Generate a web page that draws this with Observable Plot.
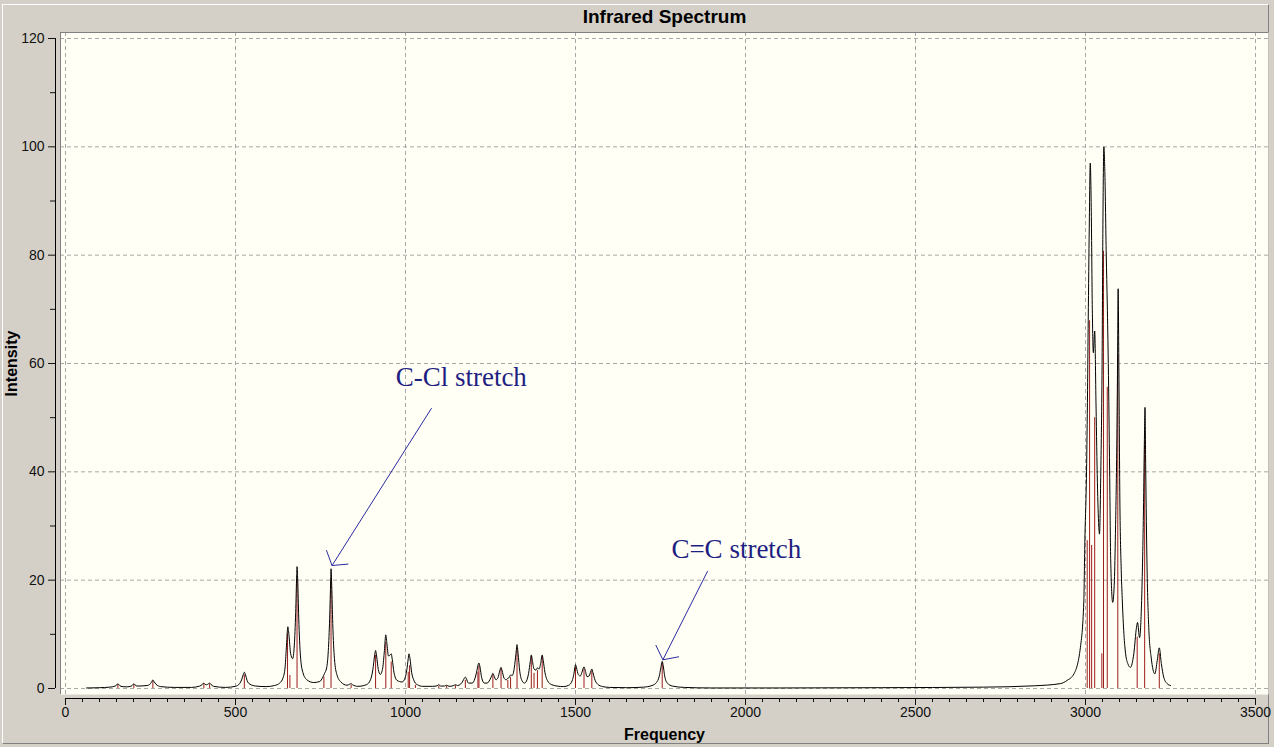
<!DOCTYPE html>
<html><head><meta charset="utf-8">
<script src="https://cdn.jsdelivr.net/npm/d3@7"></script>
<script src="https://cdn.jsdelivr.net/npm/@observablehq/plot@0.6"></script>
<style>
body{margin:0;background:#d4d0c8;}
#wrap{position:relative;width:1274px;height:747px;overflow:hidden;}
#bevel{position:absolute;left:2px;top:4px;width:1265px;height:738px;border-top:1px solid #fff;border-left:1px solid #fff;border-right:1px solid #808080;border-bottom:1px solid #808080;}
#chart{position:absolute;left:0;top:0;}
</style></head><body>
<div id="wrap"><div id="bevel"></div><div id="chart"></div></div>
<script>
// ---- Data ----
// Stick spectrum: frequencies (cm-1) and intensities
const stickFreq = [154, 201, 257, 407, 424, 526, 653, 660, 681, 760, 781, 840, 912, 942, 958, 1008, 1012, 1029, 1098, 1121, 1147, 1176, 1213, 1216, 1257, 1281, 1301, 1309, 1328, 1370, 1378, 1388, 1402, 1500, 1525, 1548, 1755, 3005, 3012, 3018, 3027, 3048, 3053, 3064, 3095, 3152, 3174, 3217];
const stickInt  = [0.7, 0.7, 1.3, 0.8, 0.8, 2.5, 10.1, 2.4, 20.3, 2.1, 20.3, 0.6, 6.1, 8.5, 4.9, 3.0, 4.2, 0.6, 0.4, 0.4, 0.5, 1.5, 3.0, 4.2, 2.5, 3.6, 1.5, 2.0, 7.3, 5.9, 2.8, 3.3, 5.9, 3.9, 3.5, 3.2, 4.6, 27.3, 67.9, 26.4, 50, 6.4, 80.7, 55.6, 61.5, 9.5, 45.5, 6.4];

// Broadened spectrum envelope: points
const envFreq = [62,100,130,146,151,154,157,163,180,194,198,201,204,210,240,250,254,257,260,266,280,320,370,395,402,407,411,415,420,424,428,436,470,500,512,518,523,526,529,534,542,560,590,615,630,640,646,650,654,657,662,668,673,677,680,681,683,686,691,698,710,730,748,756,762,768,773,777,780,781,783,786,791,798,810,828,836,840,844,860,885,897,904,909,912,915,920,926,933,938,942,945,950,955,958,961,966,975,990,999,1004,1008,1010,1013,1018,1024,1029,1035,1050,1080,1093,1098,1103,1114,1121,1128,1140,1147,1153,1162,1169,1173,1176,1179,1185,1196,1204,1210,1214,1216,1219,1224,1232,1240,1248,1254,1257,1260,1266,1272,1277,1281,1284,1290,1296,1301,1305,1309,1314,1320,1325,1328,1331,1336,1343,1350,1356,1362,1367,1370,1373,1378,1383,1388,1393,1398,1402,1405,1410,1418,1430,1446,1465,1480,1490,1495,1498,1500,1503,1508,1514,1519,1523,1525,1528,1534,1540,1545,1548,1551,1556,1565,1580,1600,1650,1700,1725,1738,1746,1751,1755,1758,1762,1770,1785,1820,1900,2100,2400,2700,2850,2926,2946,2966,2985,2995,2998,3003,3006,3008,3011,3014,3017,3020,3023,3027,3031,3035,3039,3041,3045,3049,3051,3054,3057,3061,3064,3067,3071,3074,3080,3085,3088,3092,3094,3096,3098,3101,3105,3108,3113,3118,3125,3132,3142,3150,3153,3159,3165,3170,3173,3175,3177,3181,3186,3193,3204,3211,3217,3223,3230,3240,3250];
const envInt  = [0.1,0.15,0.25,0.45,0.7,0.9,0.7,0.4,0.3,0.45,0.7,0.9,0.7,0.45,0.55,0.9,1.3,1.6,1.3,0.8,0.35,0.2,0.2,0.45,0.75,1.0,0.75,0.7,0.85,1.0,0.75,0.4,0.2,0.4,0.9,1.6,2.6,3.0,2.6,1.5,0.8,0.45,0.35,0.55,1.0,2.0,4.0,8.0,11.4,10.0,6.5,5.5,8.0,14.0,21.0,22.5,20.0,13.0,6.0,3.0,1.6,1.1,1.3,2.0,2.8,3.8,7.0,13.0,20.0,22.1,19.0,12.0,5.5,2.6,1.2,0.6,0.8,0.9,0.7,0.4,0.7,1.6,3.5,6.0,7.0,6.0,3.5,2.6,3.8,7.0,9.9,8.5,6.0,6.2,6.4,5.4,3.0,1.5,1.2,2.0,3.5,5.5,6.4,5.6,3.0,1.6,1.0,0.7,0.4,0.4,0.5,0.7,0.45,0.45,0.6,0.4,0.5,0.7,0.55,0.8,1.4,1.9,2.1,1.8,1.0,1.0,1.8,3.3,4.5,4.7,4.0,2.0,1.0,1.0,1.6,2.4,2.8,2.4,1.6,2.0,3.2,3.9,3.3,1.9,1.6,1.9,2.0,2.5,2.4,3.8,6.5,8.1,6.5,3.2,1.4,1.0,1.4,2.8,5.0,6.2,5.2,3.6,3.4,3.8,3.6,4.8,6.2,5.2,3.0,1.4,0.7,0.45,0.35,0.6,1.4,2.6,3.8,4.4,3.8,2.6,2.3,3.0,3.8,4.0,3.5,2.2,2.3,3.2,3.6,3.0,1.8,0.8,0.35,0.2,0.15,0.25,0.55,1.1,2.2,3.8,5.0,4.2,2.4,1.0,0.45,0.2,0.1,0.1,0.15,0.25,0.5,0.9,1.5,2.7,7.6,16,27,40,55,68,85,97,88,70,62,66,52,38,30,28.5,40,62,84,100,95,80,71,60,40,24,15.9,20,28.6,45,58,73.8,60,35,22,16.6,10,6.4,4.5,3.9,6.4,11.3,12.2,9.4,16.2,31,45,51.9,40.9,22.4,11.3,5.8,2.7,5.2,7.5,4.6,2.1,0.9,0.55];

// Axis ticks
const xMajorTicks = [0, 500, 1000, 1500, 2000, 2500, 3000, 3500];
const xMinorTicks = d3.range(0, 3501, 50);
const yMajorTicks = [0, 20, 40, 60, 80, 100, 120];
const yMinorTicks = [10, 30, 50, 70, 90, 110];

// Annotations
const annLabel = ["C-Cl stretch", "C=C stretch"];
const annTextX = [971, 1782];
const annTextY = [57.4, 25.6];
const arrowFromX = [1076, 1888];
const arrowFromY = [51.7, 21.6];
const arrowToX = [784, 1757];
const arrowToY = [22.7, 5.3];

const titleText = "Infrared Spectrum";
const xLabel = "Frequency";
const yLabel = "Intensity";

// ---- Build tables ----
const sticks = stickFreq.map((f, i) => ({freq: f, intensity: stickInt[i]}));
const envelope = envFreq.map((f, i) => ({freq: f, intensity: envInt[i]}));
const annots = annLabel.map((t, i) => ({label: t, x: annTextX[i], y: annTextY[i],
  x1: arrowFromX[i], y1: arrowFromY[i], x2: arrowToX[i], y2: arrowToY[i]}));

const sans = "'Liberation Sans', Arial, sans-serif";
const serif = "'Liberation Serif', 'Times New Roman', serif";
const xDomain = [-14.7, 3538.2];
const yDomain = [-1.108, 121.11];
const plain = d => String(d);

const chart = Plot.plot({
  width: 1274, height: 747,
  marginLeft: 60, marginRight: 6, marginTop: 32, marginBottom: 53,
  style: {fontFamily: sans, fontSize: "14px", color: "#111", background: "transparent", overflow: "visible"},
  x: {domain: xDomain, label: null},
  y: {domain: yDomain, label: null},
  marks: [
    Plot.frame({fill: "#fffff5"}),
    Plot.gridX(xMajorTicks, {stroke: "#a8a8a8", strokeOpacity: 1, strokeDasharray: "4,3"}),
    Plot.gridY(yMajorTicks, {stroke: "#a8a8a8", strokeOpacity: 1, strokeDasharray: "4,3"}),
    Plot.ruleX([xDomain[0]], {stroke: "#808080"}),
    Plot.ruleY([yDomain[1]], {stroke: "#808080"}),
    Plot.ruleX(sticks, {x: "freq", y1: 0, y2: "intensity", stroke: "#9b1c1c", strokeWidth: 1}),
    Plot.line(envelope, {x: "freq", y: "intensity", stroke: "#000", strokeWidth: 1, curve: "monotone-x"}),
    // axes
    Plot.ruleY([yDomain[0]], {x1: 0, x2: 3500, dy: 4, stroke: "#000"}),
    Plot.axisX(xMinorTicks, {anchor: "bottom", tickSize: 4, dy: 4, tickFormat: () => "", label: null}),
    Plot.axisX(xMajorTicks, {anchor: "bottom", tickSize: 7, tickPadding: 2, dy: 4, fontSize: 14, tickFormat: plain, label: null}),
    Plot.ruleX([xDomain[0]], {y1: 0, y2: 120, dx: -5, stroke: "#000"}),
    Plot.axisY(yMinorTicks, {anchor: "left", tickSize: 5, dx: -5, tickFormat: () => "", label: null}),
    Plot.axisY(yMajorTicks, {anchor: "left", tickSize: 7, tickPadding: 4, dx: -5, fontSize: 14, tickFormat: plain, label: null}),
    // annotations
    Plot.arrow(annots, {x1: "x1", y1: "y1", x2: "x2", y2: "y2", stroke: "#2a2aa0", strokeWidth: 1, headAngle: 105, headLength: 24}),
    Plot.text(annots, {x: "x", y: "y", text: "label", textAnchor: "start", fontSize: 27, fontFamily: serif, fill: "#1e1e82"}),
    // titles
    Plot.text([titleText], {text: d => d, frameAnchor: "top", lineAnchor: "middle", dy: -16, fontSize: 19, fontWeight: "bold", fill: "#000"}),
    Plot.text([xLabel], {text: d => d, frameAnchor: "bottom", lineAnchor: "middle", dy: 40, fontSize: 16, fontWeight: "bold", fill: "#000"}),
    Plot.text([yLabel], {text: d => d, frameAnchor: "left", textAnchor: "middle", lineAnchor: "middle", dx: -49, rotate: -90, fontSize: 16, fontWeight: "bold", fill: "#000"})
  ]
});
document.getElementById("chart").appendChild(chart);
</script>
</body></html>
